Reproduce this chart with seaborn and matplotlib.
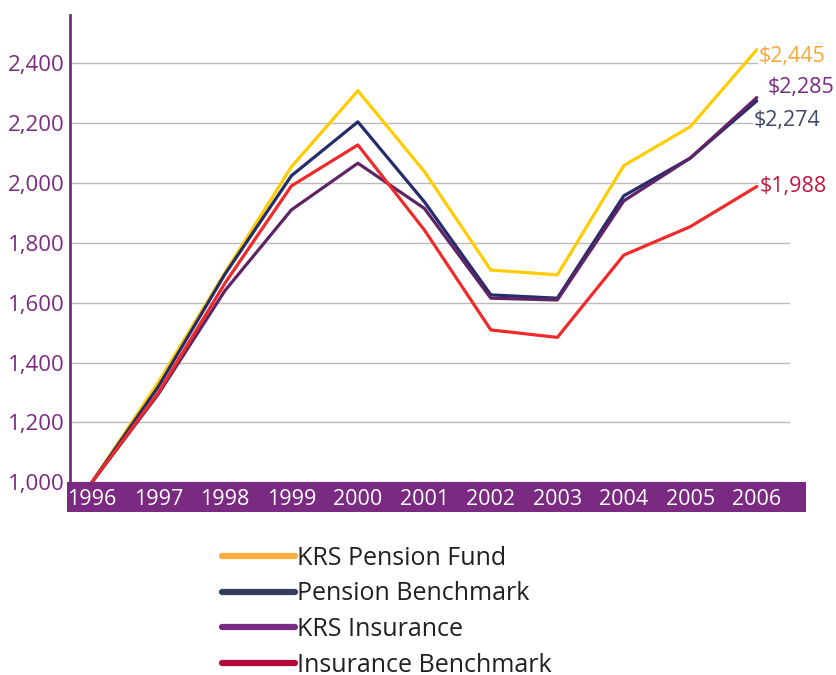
import pandas as pd
import matplotlib.pyplot as plt
import seaborn as sns
from matplotlib.lines import Line2D
from matplotlib.patches import Rectangle

# Growth of $1,000 invested in 1996
years = [1996, 1997, 1998, 1999, 2000, 2001, 2002, 2003, 2004, 2005, 2006]
krs_pension = [1000, 1335, 1700, 2054, 2308, 2038, 1709, 1693, 2058, 2188, 2445]
pension_bench = [1000, 1320, 1695, 2024, 2204, 1937, 1626, 1615, 1957, 2083, 2274]
krs_insurance = [1000, 1295, 1640, 1910, 2066, 1915, 1615, 1609, 1940, 2083, 2285]
insurance_bench = [1000, 1300, 1665, 1990, 2127, 1843, 1509, 1484, 1759, 1854, 1988]

series_names = ["KRS Pension Fund", "Pension Benchmark", "KRS Insurance", "Insurance Benchmark"]
line_colors = ["#FFCC00", "#252C6B", "#5E2465", "#EE2A2A"]
legend_colors = ["#F9AE3D", "#333D5F", "#7A2B82", "#B3083A"]
label_colors = ["#F9A634", "#3F4763", "#7B2A82", "#C1163F"]
yticks = [1000, 1200, 1400, 1600, 1800, 2000, 2200, 2400]

purple = "#7B2A82"

data = pd.DataFrame({
    "Year": years * 4,
    "Value": krs_pension + pension_bench + krs_insurance + insurance_bench,
    "Series": [s for s in series_names for _ in years],
})

sns.set_style("white")
plt.rcParams['font.family'] = ['Open Sans', 'DejaVu Sans']

fig = plt.figure(figsize=(8.36, 6.75), dpi=100)
ax = fig.add_axes([70 / 836, 1 - 482.3 / 675, 720 / 836, 467.3 / 675])

ax.grid(axis='y', color='#BBBBBB', linewidth=1.0)
ax.set_axisbelow(True)

sns.lineplot(data=data, x="Year", y="Value", hue="Series", palette=line_colors,
             hue_order=series_names, linewidth=2.3, legend=False, ax=ax)

ax.set_xlim(1995.67, 2006.5)
ax.set_ylim(1000, 2561)
ax.set_xlabel("")
ax.set_ylabel("")

for side in ["top", "right", "bottom"]:
    ax.spines[side].set_visible(False)
ax.spines["left"].set_color(purple)
ax.spines["left"].set_linewidth(2)

ax.set_yticks(yticks)
ax.set_yticklabels([f"{v:,}" for v in yticks])
ax.tick_params(axis='y', length=0, pad=4, labelsize=16, labelcolor=purple)

ax.set_xticks(years)
ax.set_xticks([y + 0.5 for y in years], minor=True)
ax.tick_params(axis='x', which='major', length=0, pad=5, labelsize=15.5, labelcolor='white')
ax.tick_params(axis='x', which='minor', direction='in', length=5, width=1, color='#BBBBBB')

# purple band behind the year labels
band = Rectangle((-3 / 720, -29.7 / 467.3), 739 / 720, 29.7 / 467.3,
                 transform=ax.transAxes, facecolor=purple, edgecolor='none',
                 clip_on=False, zorder=0)
ax.add_patch(band)

# end labels
ends = [krs_pension[-1], pension_bench[-1], krs_insurance[-1], insurance_bench[-1]]
offsets = [(1, -5), (-2, -14), (8, 7), (2, 0)]
for val, col, off in zip(ends, label_colors, offsets):
    ax.annotate(f"${val:,}", xy=(years[-1], val), xytext=off, textcoords='offset points',
                ha='left', va='center', fontsize=15.5, color=col,
                bbox=dict(facecolor='white', edgecolor='none', pad=0.5))

handles = [Line2D([0], [0], color=c, linewidth=4.5) for c in legend_colors]
fig.legend(handles, series_names, loc='upper left', bbox_to_anchor=(222 / 836, 1 - 546 / 675),
           frameon=False, fontsize=18, handlelength=2.9, handletextpad=0.1,
           labelspacing=0.42, borderpad=0, borderaxespad=0, labelcolor='#231F20')

plt.savefig("out.png", dpi=100)
